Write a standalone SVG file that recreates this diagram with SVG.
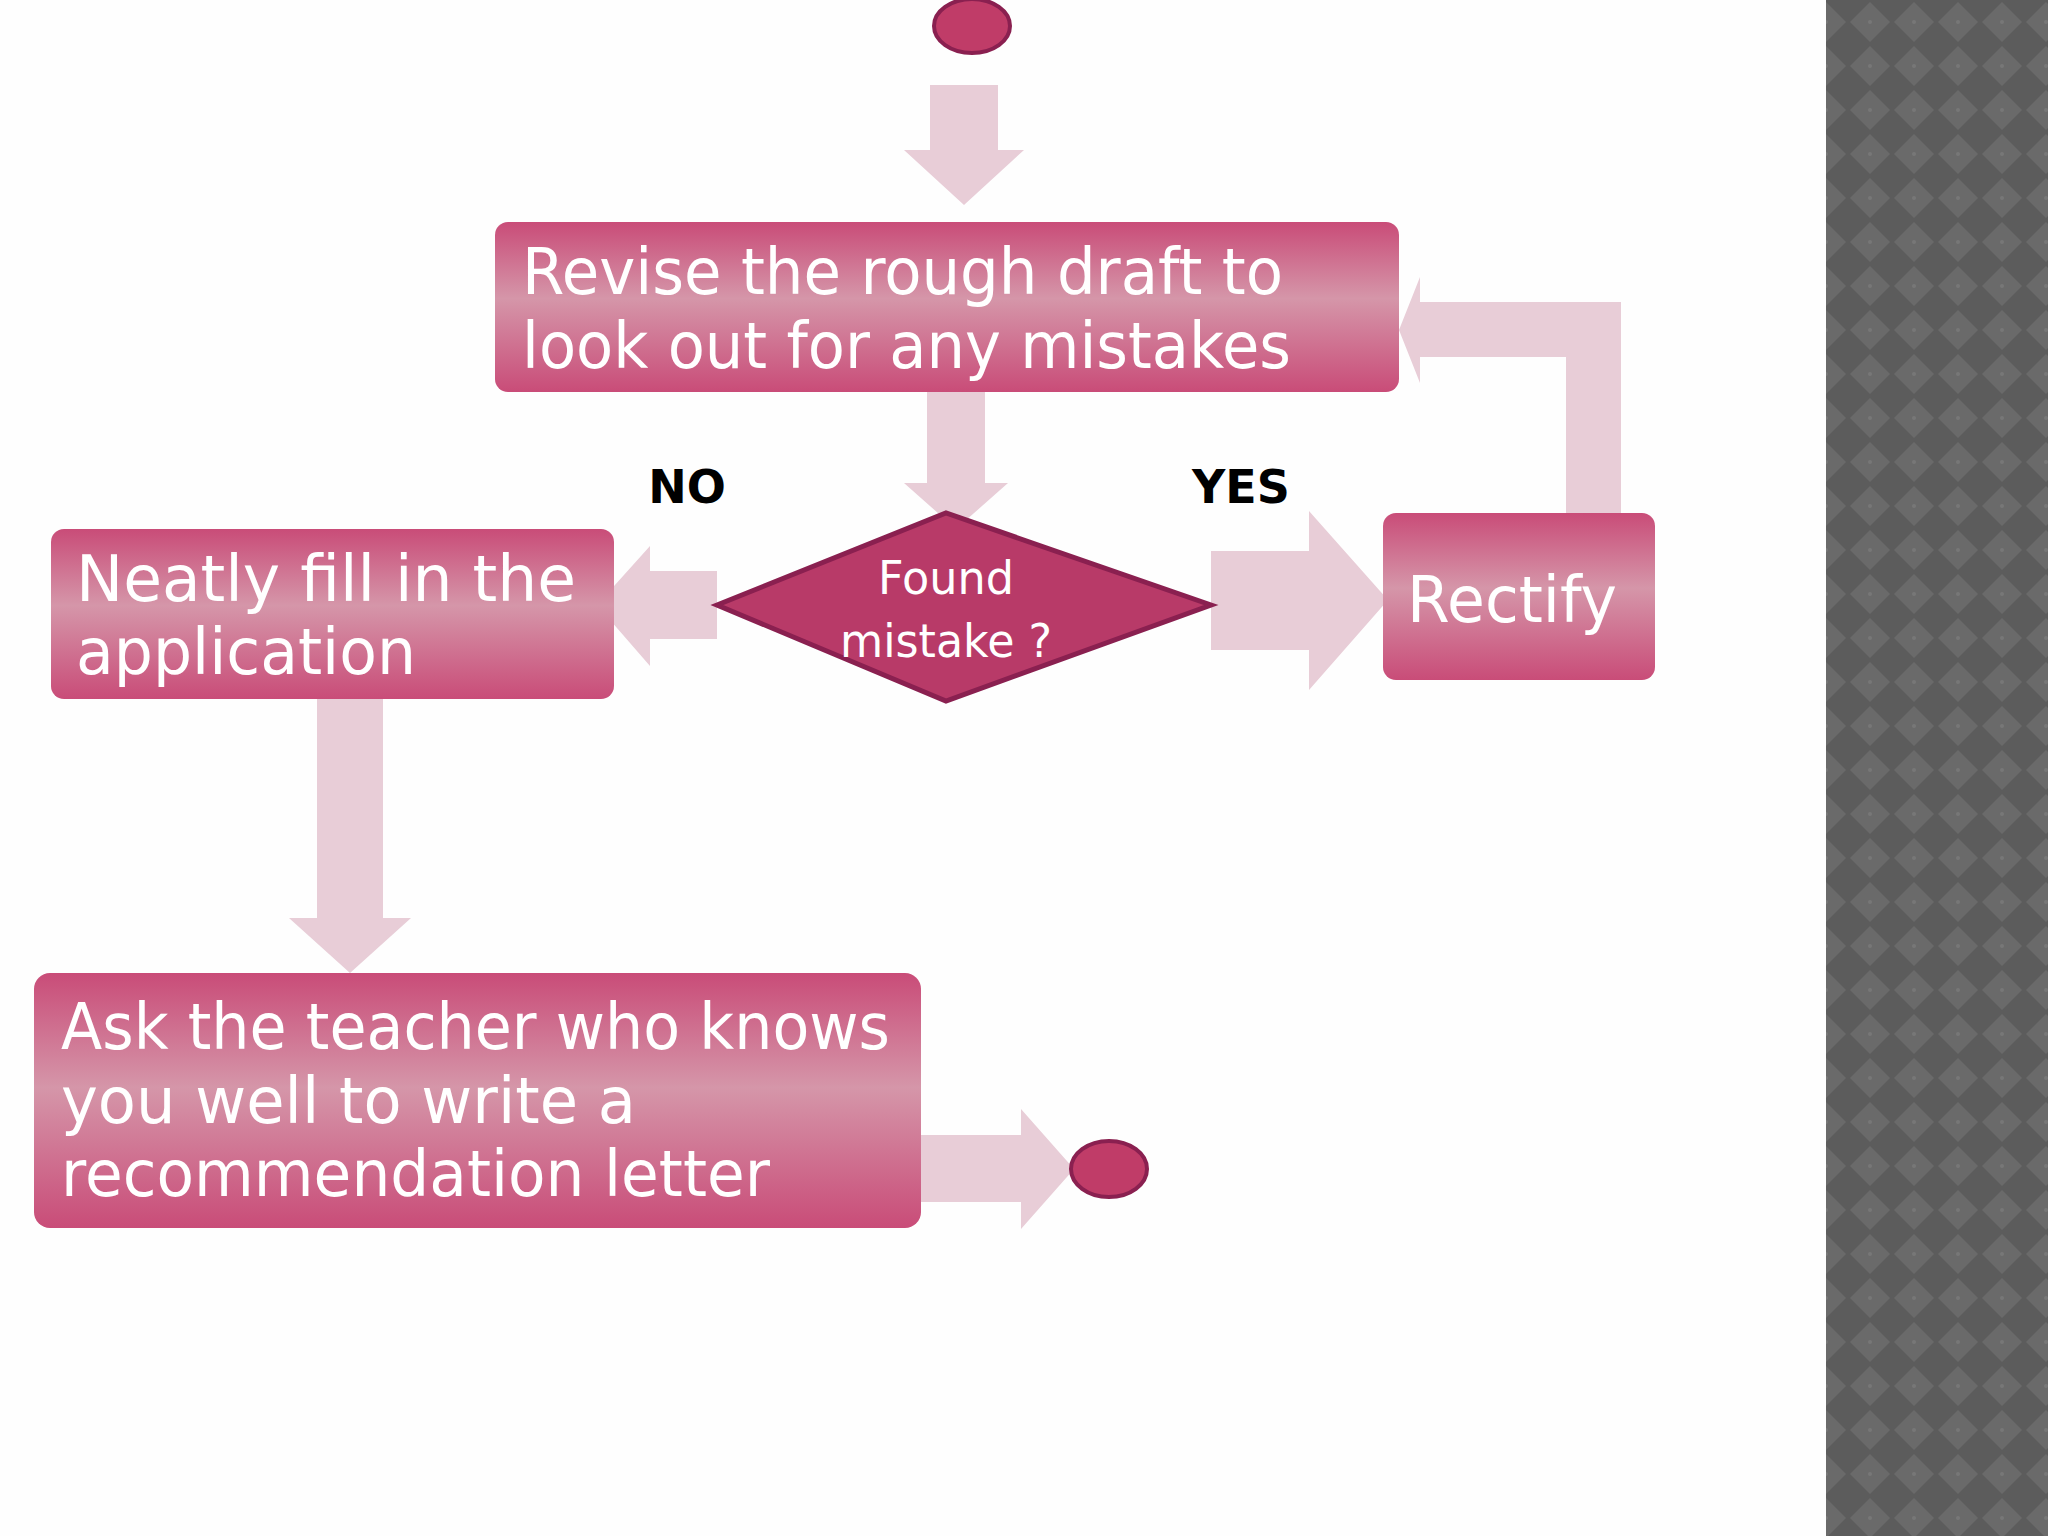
<svg xmlns="http://www.w3.org/2000/svg" width="2048" height="1536" viewBox="0 0 2048 1536">
<defs>
<linearGradient id="bx" x1="0" y1="0" x2="0" y2="1">
<stop offset="0" stop-color="#c94c78"/><stop offset="0.45" stop-color="#d596a9"/><stop offset="1" stop-color="#c94c78"/>
</linearGradient>
<pattern id="pt" width="44" height="44" patternUnits="userSpaceOnUse">
<rect width="44" height="44" fill="#5c5c5c"/>
<polygon points="22,2 42,22 22,42 2,22" fill="#6a6a6a"/>
<circle cx="22" cy="22" r="2" fill="#777"/>
</pattern>
<style>
.b{fill:url(#bx)}
.a{fill:#e8cdd7}
.t{font-family:"DejaVu Sans",sans-serif;fill:#fff;font-size:64px}
.l{font-family:"DejaVu Sans",sans-serif;font-weight:bold;fill:#000;font-size:46px;text-anchor:middle}
.e{fill:#c03c68;stroke:#8a2050;stroke-width:4}
</style>
</defs>
<rect width="2048" height="1536" fill="#fefefe"/>
<rect x="1826" y="0" width="222" height="1536" fill="url(#pt)"/>
<g id="connectors">
<polygon class="a" points="930,85 998,85 998,150 1024,150 964,205 904,150 930,150"/>
<polygon class="a" points="927,387 985,387 985,483 1008,483 956,529 904,483 927,483"/>
<polygon class="a" points="717,571 717,639 650,639 650,666 597,605 650,546 650,571"/>
<polygon class="a" points="1211,551 1309,551 1309,511 1388,600 1309,690 1309,650 1211,650"/>
<polygon class="a" points="1566,513 1566,357 1420,357 1420,383 1399,330 1420,277 1420,302 1621,302 1621,513"/>
<polygon class="a" points="317,682 383,682 383,918 411,918 350,973 289,918 317,918"/>
<polygon class="a" points="887,1135 1021,1135 1021,1109 1074,1169 1021,1229 1021,1202 887,1202"/>
</g>
<g id="start"><ellipse class="e" cx="972" cy="26" rx="38" ry="27"/></g>
<g id="revise"><rect class="b" x="495" y="222" width="904" height="170" rx="13"/>
<text class="t" x="522" y="294" textLength="761" lengthAdjust="spacingAndGlyphs">Revise the rough draft to</text>
<text class="t" x="522" y="368" textLength="769" lengthAdjust="spacingAndGlyphs">look out for any mistakes</text></g>
<g id="decision"><polygon points="717,605 946,513 1211,605 946,701" fill="#b83a68" stroke="#8a2050" stroke-width="5"/>
<text class="t" x="946" y="594" font-size="47" text-anchor="middle" textLength="136" lengthAdjust="spacingAndGlyphs" style="font-size:47px">Found</text>
<text class="t" x="946" y="657" text-anchor="middle" textLength="212" lengthAdjust="spacingAndGlyphs" style="font-size:47px">mistake ?</text></g>
<text class="l" x="687" y="503">NO</text>
<text class="l" x="1241" y="503">YES</text>
<g id="neatly"><rect class="b" x="51" y="529" width="563" height="170" rx="13"/>
<text class="t" x="76" y="601" textLength="500" lengthAdjust="spacingAndGlyphs">Neatly fill in the</text>
<text class="t" x="76" y="674" textLength="340" lengthAdjust="spacingAndGlyphs">application</text></g>
<g id="rectify"><rect class="b" x="1383" y="513" width="272" height="167" rx="13"/>
<text class="t" x="1407" y="622" textLength="210" lengthAdjust="spacingAndGlyphs">Rectify</text></g>
<g id="ask"><rect class="b" x="34" y="973" width="887" height="255" rx="16"/>
<text class="t" x="61" y="1049" textLength="829" lengthAdjust="spacingAndGlyphs">Ask the teacher who knows</text>
<text class="t" x="61" y="1123" textLength="575" lengthAdjust="spacingAndGlyphs">you well to write a</text>
<text class="t" x="61" y="1196" textLength="709" lengthAdjust="spacingAndGlyphs">recommendation letter</text></g>
<g id="end"><ellipse class="e" cx="1109" cy="1169" rx="38" ry="28"/></g>
</svg>
